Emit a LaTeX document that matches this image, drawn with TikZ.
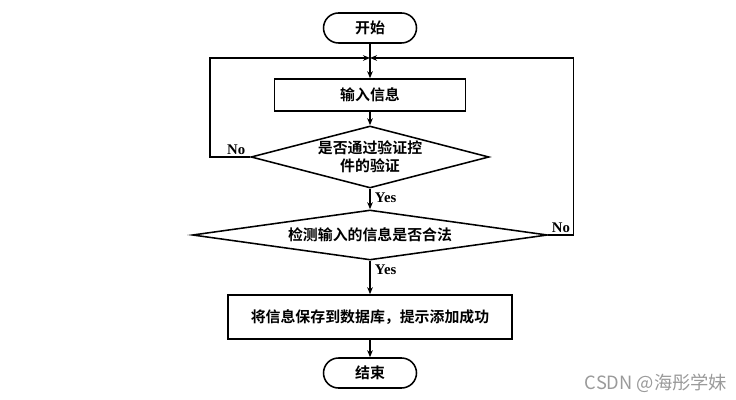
\documentclass[tikz,border=0pt]{standalone}
\usepackage{fontspec}
\usetikzlibrary{shapes.geometric, arrows.meta, positioning, calc}
\newfontfamily\cjk{Noto Sans CJK SC}
\newfontfamily\cjkbold{Noto Sans CJK SC Bold}
\newfontfamily\latinbold{Liberation Serif}
\definecolor{markgray}{HTML}{9A9A9A}

\begin{document}
\begin{tikzpicture}[font=\cjkbold\fontsize{10.6}{13}\selectfont, >={Stealth[length=5pt,width=4pt]},
    line width=1.1pt,
    termbox/.style={rectangle, draw, rounded corners=0.375cm, minimum width=2.325cm,
      minimum height=0.75cm, align=center},
    procbox/.style={rectangle, draw, minimum height=0.8cm, align=center},
    testbox/.style={diamond, draw, inner sep=0pt, align=center},
    yn/.style={font=\latinbold\bfseries\fontsize{10.5}{12}\selectfont, inner sep=1pt},
  ]
    \useasboundingbox (0,0) rectangle (18.4,-10);

    \node[termbox] (start) at (9.25,-0.7)   {开始};
    \node[procbox, minimum width=4.775cm] (input) at (9.25,-2.375) {输入信息};
    \node[testbox, aspect=3.84, minimum width=5.95cm, minimum height=1.55cm] (check) at (9.25,-3.925)
      {是否通过验证控\\件的验证};
    \node[testbox, aspect=7.1, minimum width=8.875cm, minimum height=1.25cm] (legal) at (9.25,-5.875)
      {检测输入的信息是否合法};
    \node[procbox, minimum width=7.1cm, minimum height=1.1cm] (save) at (9.25,-7.925)
      {将信息保存到数据库，提示添加成功};
    \node[termbox] (end) at (9.25,-9.325) {结束};

    \coordinate (join) at (9.25,-1.45);

    \foreach \a/\b in {start/input, input/check, check/legal, legal/save, save/end} {
      \draw[->] (\a.south) -- (\b.north);
    }

    % loops back for No
    \draw[->] (check.west) -- ++(-1.0,0) |- (join);
    \draw[->] (legal.east) -- ++(0.625,0) |- (join);

    \node[yn, above left=0pt and 2pt of check.west] {No};
    \node[yn, above right=0pt and 1pt of legal.east] {No};
    \node[yn, below right=1pt and 2pt of check.south] {Yes};
    \node[yn, below right=1pt and 2pt of legal.south] {Yes};

    \node[text=markgray, font=\cjk\fontsize{13}{15}\selectfont] (mark) at (16.4,-9.575) {CSDN @海彤学妹};
  \end{tikzpicture}
\end{document}
